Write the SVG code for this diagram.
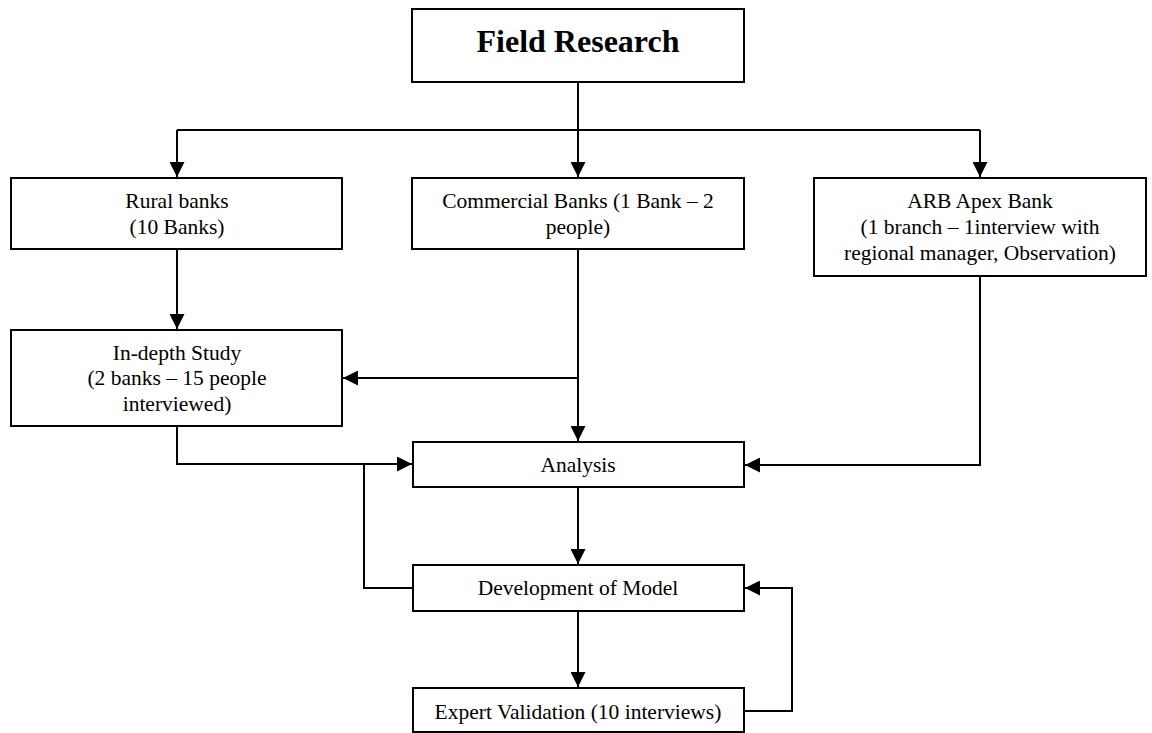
<svg xmlns="http://www.w3.org/2000/svg" width="1152" height="733" viewBox="0 0 1152 733">
  <style>
    .box { fill: #ffffff; stroke: #000000; stroke-width: 2; }
    .lbl { font-family: "Liberation Serif", "Times New Roman", serif; font-size: 21.5px; fill: #000000; text-anchor: middle; }
    .title { font-family: "Liberation Serif", "Times New Roman", serif; font-size: 32px; font-weight: bold; fill: #000000; text-anchor: middle; }
    .wire { fill: none; stroke: #000000; stroke-width: 2; }
    .arr { marker-end: url(#head); }
  </style>
  <defs>
    <marker id="head" viewBox="0 0 15 15" refX="15" refY="7.5" markerWidth="15" markerHeight="15" markerUnits="userSpaceOnUse" orient="auto">
      <path d="M0,0 L15,7.5 L0,15 Z" fill="#000000"/>
    </marker>
  </defs>
  <rect width="1152" height="733" fill="#ffffff"/>

  <!-- connectors -->
  <g id="connectors">
    <path class="wire" d="M578,82 V130 M177,130 H980"/>
    <path class="wire arr" d="M578,130 V177"/>
    <path class="wire arr" d="M177,130 V177"/>
    <path class="wire arr" d="M980,130 V177"/>
    <path class="wire arr" d="M177,249 V329"/>
    <path class="wire arr" d="M578,378 H343"/>
    <path class="wire arr" d="M578,249 V441"/>
    <path class="wire arr" d="M177,426 V464 H412"/>
    <path class="wire" d="M413,588 H364 V464"/>
    <path class="wire arr" d="M980,276 V465 H745"/>
    <path class="wire arr" d="M578,487 V564"/>
    <path class="wire arr" d="M578,611 V687"/>
    <path class="wire arr" d="M744,711 H792 V588 H745"/>
  </g>

  <!-- nodes -->
  <g id="field-research">
    <rect class="box" x="412" y="9" width="332" height="73"/>
    <text class="title" x="578" y="52">Field Research</text>
  </g>
  <g id="rural-banks">
    <rect class="box" x="11" y="178" width="331" height="71"/>
    <text class="lbl" x="177" y="208">Rural banks</text>
    <text class="lbl" x="177" y="234">(10 Banks)</text>
  </g>
  <g id="commercial-banks">
    <rect class="box" x="412" y="178" width="332" height="71"/>
    <text class="lbl" x="578" y="208">Commercial Banks (1 Bank – 2</text>
    <text class="lbl" x="578" y="234">people)</text>
  </g>
  <g id="arb-apex-bank">
    <rect class="box" x="814" y="178" width="332" height="98"/>
    <text class="lbl" x="980" y="208">ARB Apex Bank</text>
    <text class="lbl" x="980" y="234">(1 branch – 1interview with</text>
    <text class="lbl" x="980" y="260">regional manager, Observation)</text>
  </g>
  <g id="in-depth-study">
    <rect class="box" x="11" y="330" width="331" height="96"/>
    <text class="lbl" x="177" y="360">In-depth Study</text>
    <text class="lbl" x="177" y="385">(2 banks – 15 people</text>
    <text class="lbl" x="177" y="411">interviewed)</text>
  </g>
  <g id="analysis">
    <rect class="box" x="413" y="442" width="331" height="45"/>
    <text class="lbl" x="578" y="472">Analysis</text>
  </g>
  <g id="development-of-model">
    <rect class="box" x="413" y="565" width="331" height="46"/>
    <text class="lbl" x="578" y="595">Development of Model</text>
  </g>
  <g id="expert-validation">
    <rect class="box" x="413" y="688" width="331" height="44"/>
    <text class="lbl" x="578" y="719">Expert Validation (10 interviews)</text>
  </g>
</svg>
